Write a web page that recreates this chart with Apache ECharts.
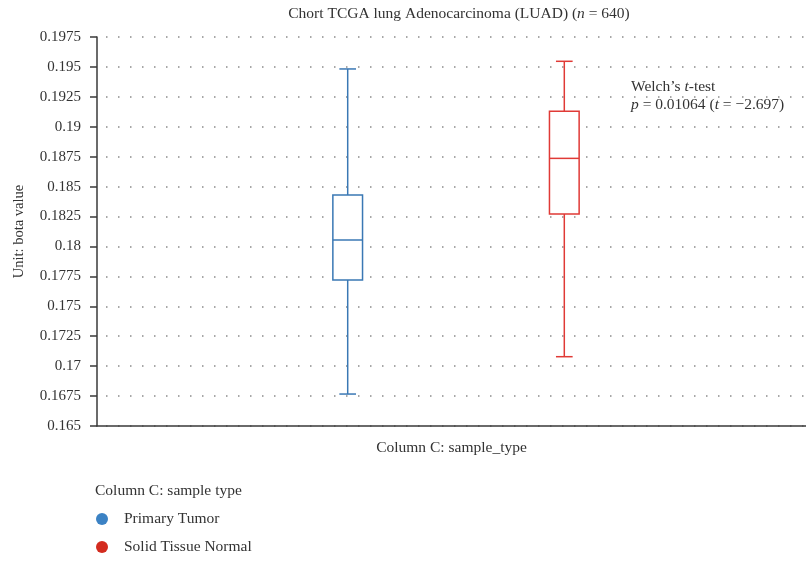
<!DOCTYPE html>
<html>
<head>
<meta charset="utf-8">
<script src="https://cdn.jsdelivr.net/npm/echarts@6/dist/echarts.min.js"></script>
<style>html,body{margin:0;padding:0;background:#fff}#c{width:806px;height:561px}</style>
</head>
<body>
<div id="c"></div>
<script>
// ---- data ----
var categories = ['Primary Tumor', 'Solid Tissue Normal'];
// [lower whisker, Q1, median, Q3, upper whisker]
var primaryTumor = [0.16767, 0.1772, 0.18054, 0.1843, 0.19483];
var solidTissueNormal = [0.17079, 0.18271, 0.18736, 0.19129, 0.19547];
var yMin = 0.165, yMax = 0.1975, yStep = 0.0025;

var FONT = '"Liberation Serif", "DejaVu Serif", serif';
var FS = 15.5;
var blueLegend = '#3b82c4', redLegend = '#d32b1f';
var blueStroke = '#3a78b4', redStroke = '#e03a36';

function renderBox(stroke) {
  return function (params, api) {
    var x = api.value(0);
    var lo = api.coord([x, api.value(1)]);
    var q1 = api.coord([x, api.value(2)]);
    var md = api.coord([x, api.value(3)]);
    var q3 = api.coord([x, api.value(4)]);
    var hi = api.coord([x, api.value(5)]);
    var band = api.size([1, 0])[0];
    var hw = band * 0.137 / 2, hc = band * 0.077 / 2;
    var cx = md[0];
    var st = {stroke: stroke, lineWidth: 1.5, fill: null};
    return {
      type: 'group',
      children: [
        {type: 'line', shape: {x1: cx, y1: hi[1], x2: cx, y2: q3[1]}, style: st},
        {type: 'line', shape: {x1: cx, y1: q1[1], x2: cx, y2: lo[1]}, style: st},
        {type: 'line', shape: {x1: cx - hc, y1: hi[1], x2: cx + hc, y2: hi[1]}, style: st},
        {type: 'line', shape: {x1: cx - hc, y1: lo[1], x2: cx + hc, y2: lo[1]}, style: st},
        {type: 'rect', shape: {x: cx - hw, y: q3[1], width: hw * 2, height: q1[1] - q3[1]},
          style: {stroke: stroke, lineWidth: 1.5, fill: '#fff'}},
        {type: 'line', shape: {x1: cx - hw, y1: md[1], x2: cx + hw, y2: md[1]}, style: st}
      ]
    };
  };
}

function legendFor(name, top) {
  return {
    orient: 'vertical', left: 91, top: top,
    icon: 'circle', itemWidth: 12, itemHeight: 12,
    data: [name], selectedMode: false,
    textStyle: {fontFamily: FONT, fontSize: FS, color: '#333', padding: [0, 0, 0, 11]}
  };
}

var chart = echarts.init(document.getElementById('c'), null, {renderer: 'canvas'});
var yAxisCommon = {type: 'value', min: yMin, max: yMax, interval: yStep};
chart.setOption({
  animation: false,
  textStyle: {fontFamily: FONT},
  grid: [
    {left: 97, top: 37, width: 709, height: 389},
    {left: 239.4, top: 37, width: 433.2, height: 389}
  ],
  xAxis: [
    {gridIndex: 0, type: 'category', data: [''], boundaryGap: true,
     axisLine: {show: true, lineStyle: {color: '#3a3a3a', width: 1.5}},
     axisTick: {show: false}, axisLabel: {show: false}, splitLine: {show: false},
     name: 'Column C: sample_type', nameLocation: 'middle', nameGap: 14,
     nameTextStyle: {fontFamily: FONT, fontSize: FS, color: '#333'}},
    {gridIndex: 1, type: 'category', data: categories, show: false}
  ],
  yAxis: [
    Object.assign({gridIndex: 0}, yAxisCommon, {
      axisLine: {show: true, lineStyle: {color: '#3a3a3a', width: 1.5}},
      axisTick: {show: true, length: 7, lineStyle: {color: '#3a3a3a', width: 1.5}},
      axisLabel: {margin: 16, fontFamily: FONT, fontSize: 15, color: '#333',
        formatter: function (v) { return String(Number(v.toFixed(4))); }},
      splitLine: {show: true, lineStyle: {color: '#8a8a8a', width: 1.5, type: [1.5, 10.5], dashOffset: -9}},
      name: 'Unit: bota value', nameLocation: 'middle', nameGap: 70, nameRotate: 90,
      nameTextStyle: {fontFamily: FONT, fontSize: 14.5, color: '#333'}
    }),
    Object.assign({gridIndex: 1, show: false, splitLine: {show: false}}, yAxisCommon)
  ],
  legend: [legendFor(categories[0], 506), legendFor(categories[1], 534)],
  series: [
    {name: categories[0], type: 'custom', xAxisIndex: 1, yAxisIndex: 1,
     itemStyle: {color: blueLegend}, renderItem: renderBox(blueStroke),
     encode: {x: 0, y: [1, 2, 3, 4, 5]},
     data: [[0].concat(primaryTumor)]},
    {name: categories[1], type: 'custom', xAxisIndex: 1, yAxisIndex: 1,
     itemStyle: {color: redLegend}, renderItem: renderBox(redStroke),
     encode: {x: 0, y: [1, 2, 3, 4, 5]},
     data: [[1].concat(solidTissueNormal)]}
  ],
  graphic: [
    {type: 'text', x: 459, y: 14, style: {
      text: 'Chort TCGA lung Adenocarcinoma (LUAD) ({i|n} = 640)',
      font: FS + 'px ' + FONT, fill: '#333', align: 'center', verticalAlign: 'middle',
      rich: {i: {fontStyle: 'italic', fontFamily: FONT, fontSize: FS, fill: '#333'}}}},
    {type: 'text', x: 631, y: 87, style: {
      text: 'Welch\u2019s {i|t}-test', font: FS + 'px ' + FONT, fill: '#333', verticalAlign: 'middle',
      rich: {i: {fontStyle: 'italic', fontFamily: FONT, fontSize: FS}}}},
    {type: 'text', x: 631, y: 105, style: {
      text: '{i|p} = 0.01064 ({i|t} = \u22122.697)', font: FS + 'px ' + FONT, fill: '#333', verticalAlign: 'middle',
      rich: {i: {fontStyle: 'italic', fontFamily: FONT, fontSize: FS}}}},
    {type: 'text', x: 95, y: 491, style: {
      text: 'Column C: sample type', font: FS + 'px ' + FONT, fill: '#333', verticalAlign: 'middle'}}
  ]
});
</script>
</body>
</html>
